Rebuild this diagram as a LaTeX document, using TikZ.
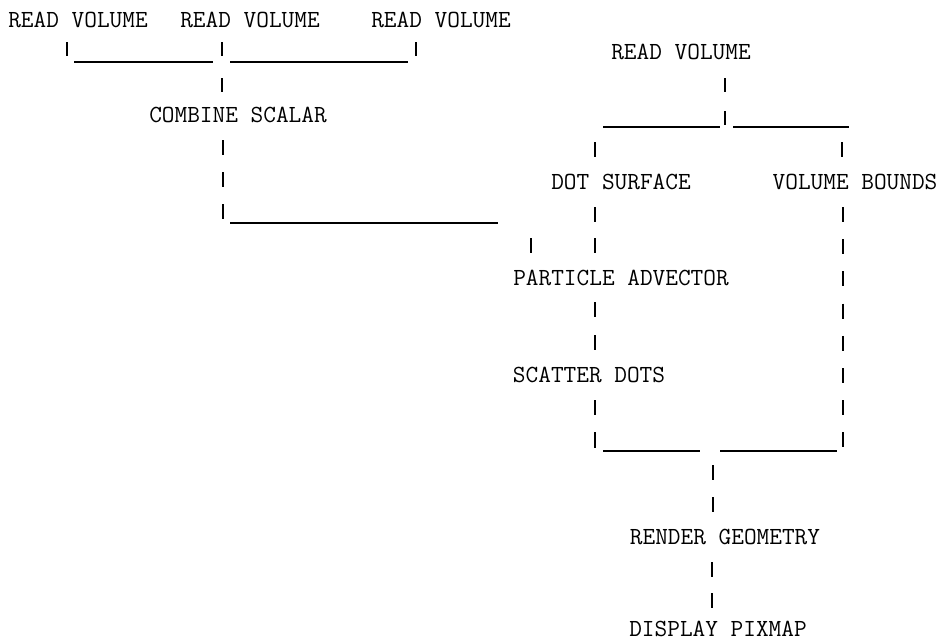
\documentclass[tikz,border=0pt]{standalone}
\usepackage{fontspec}
\begin{document}
\begin{tikzpicture}[x=1pt,y=-1pt,
  lbl/.style={font=\fontsize{24.6}{30}\selectfont\ttfamily, inner sep=0pt,
              text height=15pt, text depth=0pt, anchor=center},
  pipe/.style={line width=1.5pt},
  bar/.style={line width=1.4pt}]
\useasboundingbox[fill=white] (0,0) rectangle (944,641);

% labels
\node[lbl] (rv1) at (78,20)  {READ VOLUME};
\node[lbl] (rv2) at (250,20) {READ VOLUME};
\node[lbl] (rv3) at (441,20) {READ VOLUME};
\node[lbl] (rv4) at (681,52) {READ VOLUME};
\node[lbl] (cs)  at (238,115) {COMBINE SCALAR};
\node[lbl] (ds)  at (621,182) {DOT SURFACE};
\node[lbl] (vb)  at (855,182) {VOLUME BOUNDS};
\node[lbl] (pa)  at (621,278) {PARTICLE ADVECTOR};
\node[lbl] (sd)  at (589,375) {SCATTER DOTS};
\node[lbl] (rg)  at (725,537) {RENDER GEOMETRY};
\node[lbl] (dp)  at (718,629) {DISPLAY PIXMAP};

% junction coordinates
\coordinate (jl1) at (67,62);
\coordinate (jl2) at (222,62);
\coordinate (jl3) at (416,62);
\coordinate (jc)  at (223,223);
\coordinate (jce) at (498,223);
\coordinate (jr)  at (725,127);
\coordinate (jb)  at (713,451);

% left tree
\draw[pipe] (67,42) -- (67,56);
\draw[pipe] (222,42) -- (222,56) (222,78) -- (222,92);
\draw[pipe] (416,42) -- (416,56);
\draw[bar] (74,62) -- (213,62) (230,62) -- (408,62);
\draw[pipe] (223,140) -- (223,155) (223,172) -- (223,187) (223,204) -- (223,219);
\draw[bar] (230,223) -- (jce);
\draw[pipe] (531,238) -- (531,253);

% right tree
\draw[pipe] (725,78) -- (725,92) (725,111) -- (725,125);
\draw[bar] (603,127) -- (720,127) (733,127) -- (849,127);
\draw[pipe] (595,142) -- (595,157);
\draw[pipe] (842,142) -- (842,157);
\draw[pipe] (595,207) -- (595,222) (595,238) -- (595,253);
\draw[pipe, dash pattern=on 15pt off 17.2pt] (843,207) -- (843,448);
\draw[pipe] (595,302) -- (595,317) (595,335) -- (595,350);
\draw[pipe] (595,400) -- (595,415) (595,432) -- (595,448);
\draw[bar] (603,451) -- (700,451) (720,451) -- (837,451);
\draw[pipe] (713,465) -- (713,480) (713,497) -- (713,512);
\draw[pipe] (712,562) -- (712,577) (712,593) -- (712,608);
\end{tikzpicture}
\end{document}
